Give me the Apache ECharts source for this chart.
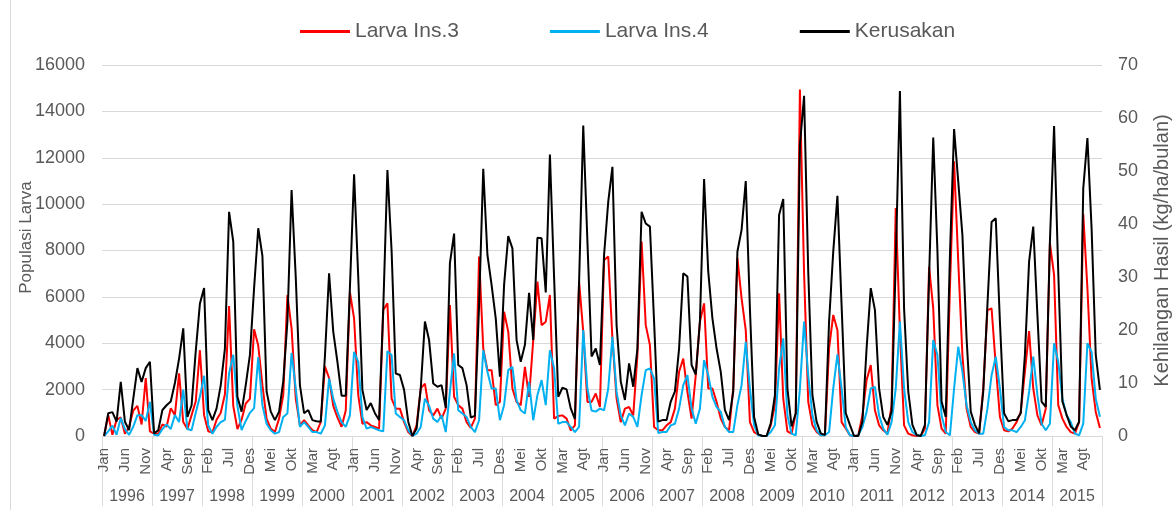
<!DOCTYPE html>
<html>
<head>
<meta charset="utf-8">
<script src="https://cdn.jsdelivr.net/npm/echarts@6/dist/echarts.min.js"></script>
<style>
  html, body { margin: 0; padding: 0; background: #fff; }
  #chart { width: 1174px; height: 510px; }
</style>
</head>
<body>
<div id="chart"></div>
<script>
// Monthly observations 1996–2015
const years = ['1996','1997','1998','1999','2000','2001','2002','2003','2004','2005',
               '2006','2007','2008','2009','2010','2011','2012','2013','2014','2015'];
const monthNames = ['Jan','Feb','Mar','Apr','Mei','Jun','Jul','Agt','Sep','Okt','Nov','Des'];

// Larva instar 3 population (left axis)
const larvaIns3 = [
  0, 900, 50, 700, 800, 100, 400, 1100, 1300, 500, 2500, 200,
  100, 100, 500, 400, 1200, 900, 2700, 600, 300, 900, 1500, 3700,
  900, 200, 150, 700, 1000, 1800, 5600, 1300, 300, 700, 1400, 1600,
  4600, 3900, 2190, 750, 320, 170, 750, 1760, 6080, 4640, 1610, 460,
  680, 460, 250, 170, 600, 3000, 2500, 1300, 800, 400, 1100, 6200,
  5070, 1760, 530, 600, 460, 390, 320, 5430, 5720, 1610, 1180, 1180,
  600, 170, 0, 460, 2050, 2260, 1110, 890, 1180, 750, 1180, 5650,
  1690, 1330, 1180, 600, 350, 750, 7740, 3780, 2840, 2840, 1330, 1470,
  5360, 4500, 2050, 1470, 1330, 2980, 1690, 4140, 6660, 4780, 4930, 6080,
  750, 860, 890, 750, 245, 460, 6660, 4500, 1470, 1470, 1830, 1250,
  7590, 7740, 4210, 1610, 600, 1180, 1250, 890, 3490, 8390, 4780, 3920,
  390, 245, 245, 460, 600, 1180, 2770, 3340, 1900, 750, 2620, 4930,
  5720, 2050, 2050, 1470, 750, 390, 245, 2050, 7670, 5940, 4570, 600,
  170, 60, 0, 0, 460, 1330, 6150, 1610, 200, 100, 970, 14940,
  7000, 1470, 460, 170, 30, 30, 3780, 5220, 4570, 600, 320, 30,
  0, 30, 890, 2410, 3060, 1110, 460, 245, 100, 1330, 9830, 4500,
  460, 100, 30, 0, 0, 320, 7300, 5500, 1330, 320, 100, 6370,
  11850, 7520, 3490, 1180, 390, 170, 100, 2050, 5430, 5500, 3050, 820,
  245, 200, 320, 600, 1040, 2770, 4520, 2050, 890, 460, 1180, 8310,
  6950, 1330, 750, 390, 170, 100, 600, 9570, 6370, 2480, 1040, 350
];

// Larva instar 4 population (left axis)
const larvaIns4 = [
  0, 200, 450, 50, 780, 300, 50, 400, 900, 900, 650, 1470,
  50, 20, 300, 500, 300, 900, 600, 2000, 300, 250, 1000, 1700,
  2600, 450, 100, 400, 600, 700, 2700, 3500, 1300, 250, 650, 1000,
  1200, 3400, 1330, 530, 250, 100, 170, 820, 970, 3590, 2050, 390,
  600, 390, 170, 170, 100, 460, 2480, 1610, 1040, 600, 390, 890,
  3630, 3200, 820, 320, 390, 320, 250, 200, 3660, 3490, 970, 820,
  680, 250, 0, 100, 390, 1610, 1300, 750, 600, 890, 170, 1900,
  3560, 1110, 970, 820, 390, 170, 680, 3700, 2770, 2050, 2050, 680,
  1330, 2840, 2980, 1540, 1110, 970, 2330, 680, 1760, 2410, 1330, 3700,
  2910, 530, 600, 600, 390, 170, 390, 4570, 2050, 1100, 1050, 1180,
  1110, 2050, 4280, 1900, 890, 460, 970, 820, 390, 1760, 2840, 2910,
  2480, 130, 170, 170, 460, 530, 1180, 2190, 2620, 1180, 530, 1180,
  3270, 2620, 1690, 1250, 1040, 390, 170, 170, 1330, 2190, 4060, 2050,
  460, 30, 0, 0, 170, 460, 2910, 4210, 890, 100, 30, 2050,
  4930, 2620, 890, 245, 30, 30, 170, 2050, 3520, 2050, 390, 30,
  0, 30, 390, 1040, 2050, 2120, 890, 320, 60, 600, 2050, 4930,
  2050, 600, 170, 30, 0, 30, 600, 4140, 3490, 890, 170, 30,
  2050, 3850, 2770, 1330, 600, 245, 100, 100, 1180, 2620, 3420, 2050,
  390, 245, 245, 170, 390, 680, 1900, 3420, 1760, 530, 245, 530,
  4000, 3200, 1610, 890, 600, 100, 30, 530, 4000, 3630, 1610, 830
];

// Yield loss, kg/ha/month (right axis)
const kerusakan = [
  0, 4.3, 4.5, 2.7, 10.2, 2.7, 1.1, 7, 12.8, 10.2, 12.8, 14,
  0.5, 1.1, 4.9, 5.8, 6.5, 10, 14.6, 20.3, 3.6, 5.8, 16, 25,
  27.9, 4.9, 3, 5.2, 9.6, 16.5, 42.3, 36.7, 7.4, 4.6, 9.6, 15.3,
  27.9, 39.2, 34, 8.4, 4.6, 3, 4.6, 10.3, 21.6, 46.4, 30, 9.6,
  4.3, 4.9, 3, 2.8, 2.7, 15, 30.7, 19.7, 14, 7.6, 7.6, 28,
  49.4, 30, 8.7, 4.9, 6.2, 4.3, 3, 24, 50.2, 35, 11.8, 11.5,
  8.7, 2.7, 0, 1.4, 9, 21.6, 18.1, 9.9, 9.3, 9.6, 5.3, 32.6,
  38.2, 13.4, 12.8, 9.6, 3.5, 3.8, 24.7, 50.4, 34.2, 28.5, 22.2, 11.2,
  28.5, 37.7, 35.4, 18.1, 14, 17.2, 27, 18.1, 37.4, 37.3, 27.1, 53.1,
  30, 7.4, 9.1, 8.8, 5.2, 3.2, 29, 58.6, 36.7, 15, 16.5, 13.4,
  34.2, 44.2, 50.8, 20.9, 10.3, 6.8, 13.7, 9.3, 16.5, 42.3, 40.1, 39.5,
  21.6, 2.7, 3, 3, 6.5, 8.4, 16.5, 30.7, 30.1, 13.4, 11.6, 21.6,
  48.5, 31, 22.2, 16.5, 12.1, 4.9, 3, 8.4, 34.8, 38.9, 48.1, 24,
  3.6, 0.3, 0, 0, 2.4, 7.7, 41.7, 44.7, 9, 1.8, 4.3, 54.9,
  64.2, 31, 7.7, 2.7, 0.5, 0.2, 21.6, 34.8, 45.3, 24.7, 4.3, 2.1,
  0, 0, 2.7, 16.5, 27.9, 23.8, 9, 3.6, 2.1, 4.6, 32.9, 65.1,
  24, 8.4, 2.1, 0.2, 0, 2.1, 30, 56.3, 35, 6.5, 3.6, 34,
  57.9, 48, 37.9, 18.4, 4.6, 2.1, 0.5, 8.4, 24.7, 40.4, 41.1, 21.6,
  4.3, 2.8, 3, 3, 4.3, 15.3, 32.9, 39.5, 22.8, 6.5, 5.5, 36.7,
  58.5, 31, 6.5, 4, 1.8, 1.1, 2.7, 46.7, 56.2, 39.2, 15.3, 8.7
];

// Axis ranges
const larvaAxis = { min: 0, max: 16000, interval: 2000 };
const lossAxis = { min: 0, max: 70, interval: 10 };

const monthCategories = years.flatMap(() => monthNames);

const FONT = "'Liberation Sans', Arial, sans-serif";
const TEXT = '#595959';
const GRID_LINE = '#d9d9d9';

const chart = echarts.init(document.getElementById('chart'), null, { renderer: 'canvas' });

chart.setOption({
  animation: false,
  backgroundColor: '#ffffff',
  textStyle: { fontFamily: FONT },
  legend: {
    top: 21,
    left: 300,
    padding: 0,
    itemWidth: 50,
    itemHeight: 3,
    itemGap: 91,
    icon: 'rect',
    textStyle: { fontSize: 21, color: TEXT, fontFamily: FONT },
    data: ['Larva Ins.3', 'Larva Ins.4', 'Kerusakan']
  },
  grid: { left: 102, right: 72, top: 65, bottom: 74, outerBoundsMode: 'none' },
  xAxis: [
    {
      type: 'category',
      data: monthCategories,
      boundaryGap: true,
      axisLine: { lineStyle: { color: GRID_LINE, width: 1 } },
      axisTick: { show: false },
      axisLabel: {
        interval: 4,
        rotate: 90,
        margin: 12,
        fontSize: 15,
        color: TEXT,
        fontFamily: FONT
      },
      splitLine: { show: false }
    },
    {
      type: 'category',
      data: years,
      position: 'bottom',
      boundaryGap: true,
      axisLine: { show: false },
      axisTick: { show: true, interval: 0, length: 70, lineStyle: { color: GRID_LINE, width: 1 } },
      axisLabel: { interval: 0, margin: 53, fontSize: 16, color: TEXT, fontFamily: FONT },
      splitLine: { show: false }
    }
  ],
  yAxis: [
    {
      type: 'value',
      min: larvaAxis.min,
      max: larvaAxis.max,
      interval: larvaAxis.interval,
      name: 'Populasi Larva',
      nameLocation: 'middle',
      nameRotate: 90,
      nameGap: 67,
      nameMoveOverlap: false,
      nameTextStyle: { fontSize: 17, color: TEXT, fontFamily: FONT, padding: [0, 0, 0, 26] },
      axisLine: { show: false },
      axisTick: { show: false },
      axisLabel: { margin: 17, fontSize: 18, color: TEXT, fontFamily: FONT, formatter: (v) => String(v) },
      splitLine: { lineStyle: { color: GRID_LINE, width: 1 } }
    },
    {
      type: 'value',
      position: 'right',
      min: lossAxis.min,
      max: lossAxis.max,
      interval: lossAxis.interval,
      name: 'Kehilangan Hasil (kg/ha/bulan)',
      nameLocation: 'middle',
      nameRotate: 90,
      nameGap: 50,
      nameMoveOverlap: false,
      nameTextStyle: { fontSize: 20, color: TEXT, fontFamily: FONT },
      axisLine: { show: false },
      axisTick: { show: false },
      axisLabel: { margin: 16, fontSize: 18, color: TEXT, fontFamily: FONT, formatter: (v) => String(v) },
      splitLine: { show: false }
    }
  ],
  graphic: [
    {
      type: 'line',
      shape: { x1: 10.5, y1: 0, x2: 10.5, y2: 510 },
      style: { stroke: GRID_LINE, lineWidth: 1 },
      silent: true
    }
  ],
  series: [
    {
      name: 'Larva Ins.3',
      type: 'line',
      xAxisIndex: 0,
      yAxisIndex: 0,
      data: larvaIns3,
      symbol: 'none',
      color: '#ff0000',
      lineStyle: { color: '#ff0000', width: 2 }
    },
    {
      name: 'Larva Ins.4',
      type: 'line',
      xAxisIndex: 0,
      yAxisIndex: 0,
      data: larvaIns4,
      symbol: 'none',
      color: '#00b0f0',
      lineStyle: { color: '#00b0f0', width: 2 }
    },
    {
      name: 'Kerusakan',
      type: 'line',
      xAxisIndex: 0,
      yAxisIndex: 1,
      data: kerusakan,
      symbol: 'none',
      color: '#000000',
      lineStyle: { color: '#000000', width: 2 }
    }
  ]
});
</script>
</body>
</html>
